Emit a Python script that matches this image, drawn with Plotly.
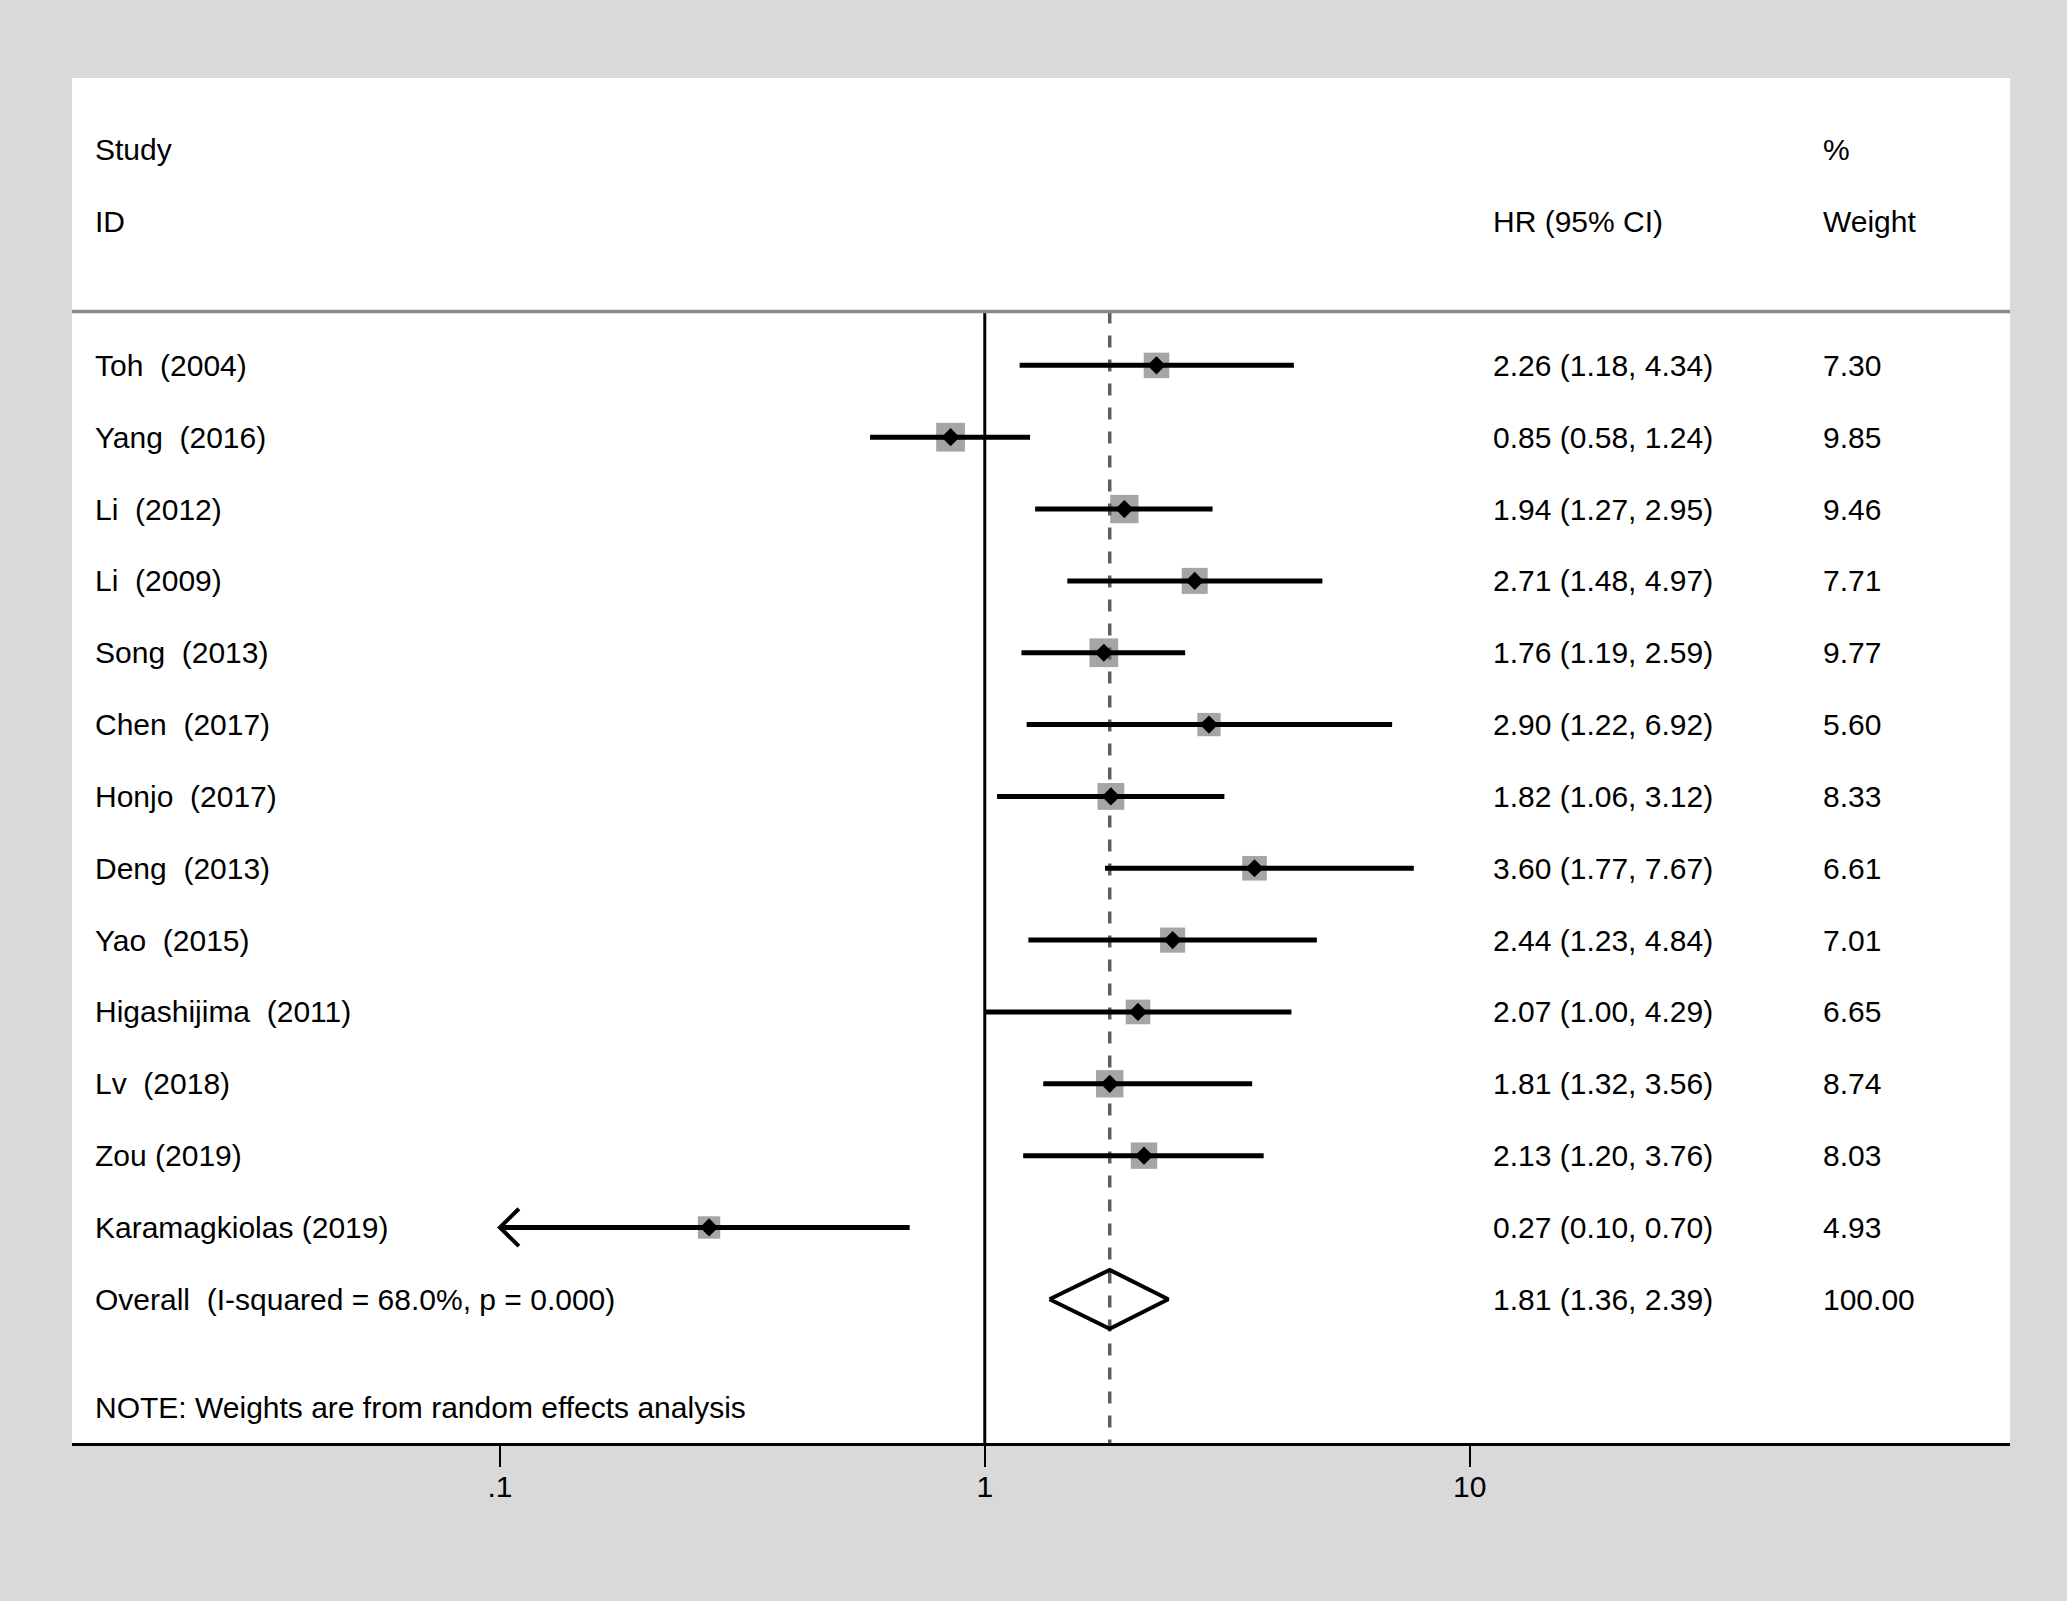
import plotly.graph_objects as go

# study rows (top to bottom)
studies = ["Toh\u00a0 (2004)", "Yang\u00a0 (2016)", "Li\u00a0 (2012)", "Li\u00a0 (2009)",
           "Song\u00a0 (2013)", "Chen\u00a0 (2017)", "Honjo\u00a0 (2017)", "Deng\u00a0 (2013)",
           "Yao\u00a0 (2015)", "Higashijima\u00a0 (2011)", "Lv\u00a0 (2018)", "Zou (2019)",
           "Karamagkiolas (2019)"]
hr = [2.26, 0.85, 1.94, 2.71, 1.76, 2.90, 1.82, 3.60, 2.44, 2.07, 1.81, 2.13, 0.27]
ci_low = [1.18, 0.58, 1.27, 1.48, 1.19, 1.22, 1.06, 1.77, 1.23, 1.00, 1.32, 1.20, 0.10]
ci_high = [4.34, 1.24, 2.95, 4.97, 2.59, 6.92, 3.12, 7.67, 4.84, 4.29, 3.56, 3.76, 0.70]
weights = [7.30, 9.85, 9.46, 7.71, 9.77, 5.60, 8.33, 6.61, 7.01, 6.65, 8.74, 8.03, 4.93]

overall_label = "Overall\u00a0 (I-squared = 68.0%, p = 0.000)"
overall_hr = 1.81
overall_low = 1.36
overall_high = 2.39
overall_weight = 100.00

note = "NOTE: Weights are from random effects analysis"
tick_vals = [0.1, 1, 10]
tick_text = [".1", "1", "10"]

FONT = "Liberation Sans, Arial, sans-serif"
FS = 30
x_min, x_max = 0.1, 10  # plotted range of the scale; arrows beyond it

rows = list(range(len(studies)))
overall_row = len(studies)
note_row = overall_row + 1.5
header_line = -0.75
bottom = 15

fig = go.Figure()

# null line at 1
fig.add_trace(go.Scatter(x=[1, 1], y=[header_line, bottom], mode="lines",
                         line=dict(color="black", width=3), hoverinfo="skip"))

# boxes
fig.add_trace(go.Scatter(x=hr, y=rows, mode="markers",
                         marker=dict(symbol="square", color="#7f7f7f",
                                     size=[16 + 1.3 * w for w in weights],
                                     line=dict(width=0)),
                         hoverinfo="skip"))

# overall effect dashed line
fig.add_trace(go.Scatter(x=[overall_hr, overall_hr], y=[header_line, bottom], mode="lines",
                         line=dict(color="#5e5e5e", width=3.5, dash="12px,12px"),
                         hoverinfo="skip"))

# confidence intervals
cx, cy = [], []
for r, lo, hi in zip(rows, ci_low, ci_high):
    cx += [max(lo, x_min), min(hi, x_max), None]
    cy += [r, r, None]
fig.add_trace(go.Scatter(x=cx, y=cy, mode="lines", line=dict(color="black", width=5),
                         hoverinfo="skip"))

# arrows where the CI runs off the scale
ax, ay = [], []
arm = 10 ** (19 / 485)
for r, lo in zip(rows, ci_low):
    if lo <= x_min:
        ax += [x_min * arm, x_min, x_min * arm, None]
        ay += [r - 0.26, r, r + 0.26, None]
fig.add_trace(go.Scatter(x=ax, y=ay, mode="lines", line=dict(color="black", width=4),
                         hoverinfo="skip"))

# point estimates
fig.add_trace(go.Scatter(x=hr, y=rows, mode="markers",
                         marker=dict(symbol="diamond", color="black", size=14),
                         hoverinfo="skip"))

# overall diamond
fig.add_trace(go.Scatter(x=[overall_low, overall_hr, overall_high, overall_hr, overall_low],
                         y=[overall_row, overall_row - 0.41, overall_row,
                            overall_row + 0.41, overall_row],
                         mode="lines", line=dict(color="black", width=4),
                         hoverinfo="skip"))

# header separator
fig.add_shape(type="line", xref="paper", x0=0, x1=1, yref="y", y0=header_line,
              y1=header_line, line=dict(color="#8a8a8a", width=3.5))

# text columns
col_id, col_hr, col_w = 0.0110, 0.7322, 0.9025


def txt(x, y, s):
    fig.add_annotation(x=x, y=y, xref="paper", yref="y", text=s, showarrow=False,
                       xanchor="left", yanchor="middle",
                       font=dict(family=FONT, size=FS, color="black"))


txt(col_id, -3, "Study")
txt(col_id, -2, "ID")
txt(col_hr, -2, "HR (95% CI)")
txt(col_w, -3, "%")
txt(col_w, -2, "Weight")

for r, s, h, lo, hi, w in zip(rows, studies, hr, ci_low, ci_high, weights):
    txt(col_id, r, s)
    txt(col_hr, r, f"{h:.2f} ({lo:.2f}, {hi:.2f})")
    txt(col_w, r, f"{w:.2f}")

txt(col_id, overall_row, overall_label)
txt(col_hr, overall_row, f"{overall_hr:.2f} ({overall_low:.2f}, {overall_high:.2f})")
txt(col_w, overall_row, f"{overall_weight:.2f}")
txt(col_id, note_row, note)

fig.update_layout(
    width=2067, height=1601,
    margin=dict(l=72, r=57, t=78, b=158, pad=0),
    paper_bgcolor="#d9d9d9", plot_bgcolor="white",
    showlegend=False,
    font=dict(family=FONT, size=FS, color="black"),
    xaxis=dict(type="log", range=[-1.8825, 2.1144], showgrid=False, zeroline=False,
               showline=True, linecolor="black", linewidth=3,
               ticks="outside", ticklen=21, tickwidth=2, tickcolor="black",
               ticklabelstandoff=-6,
               tickvals=tick_vals, ticktext=tick_text,
               tickfont=dict(family=FONT, size=FS, color="black")),
    yaxis=dict(range=[bottom, -4], showgrid=False, zeroline=False, showline=False,
               showticklabels=False, ticks=""),
)

# page has a default body margin; drop it so the figure fills the window
fig.write_html("out.html", config={"displayModeBar": False},
               post_script="document.body.style.margin='0';document.body.style.overflow='hidden';")
